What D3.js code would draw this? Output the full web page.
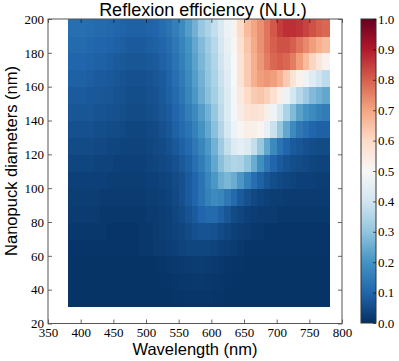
<!DOCTYPE html>
<html>
<head>
<meta charset="utf-8">
<script src="https://cdn.jsdelivr.net/npm/d3@7"></script>
<style>
  body { margin: 0; background: #fff; }
  svg { display: block; }
  .tick line { stroke: #000; stroke-width: 0.6; }
  .axis-title { font-family: "Liberation Sans", Arial, sans-serif; fill: #000; }
</style>
</head>
<body>
<div id="chart"></div>
<script>
// lower edge of each 10 nm wavelength bin
const wavelengths = [380, 390, 400, 410, 420, 430, 440, 450, 460, 470,
  480, 490, 500, 510, 520, 530, 540, 550, 560, 570,
  580, 590, 600, 610, 620, 630, 640, 650, 660, 670,
  680, 690, 700, 710, 720, 730, 740, 750, 760, 770];
// lower edge of each 10 nm diameter bin
const diameters = [30, 40, 50, 60, 70, 80, 90, 100, 110, 120, 130, 140, 150, 160, 170, 180, 190];

// one row per diameter (same order as diameters), one value per wavelength bin
const efficiency = [
  // d = 30
  [0.008, 0.008, 0.008, 0.008, 0.008, 0.008, 0.008, 0.008, 0.008, 0.008, 0.008, 0.008, 0.008, 0.008, 0.008, 0.008, 0.01, 0.01, 0.012, 0.012,
   0.012, 0.012, 0.01, 0.01, 0.008, 0.008, 0.008, 0.008, 0.008, 0.008, 0.008, 0.008, 0.008, 0.008, 0.008, 0.008, 0.008, 0.008, 0.008, 0.008],
  // d = 40
  [0.008, 0.008, 0.008, 0.008, 0.008, 0.008, 0.008, 0.008, 0.008, 0.008, 0.008, 0.008, 0.008, 0.008, 0.01, 0.01, 0.012, 0.014, 0.015, 0.016,
   0.016, 0.015, 0.013, 0.011, 0.01, 0.008, 0.008, 0.008, 0.008, 0.008, 0.008, 0.008, 0.008, 0.008, 0.008, 0.008, 0.008, 0.008, 0.008, 0.008],
  // d = 50
  [0.008, 0.008, 0.008, 0.008, 0.008, 0.008, 0.008, 0.008, 0.008, 0.008, 0.008, 0.008, 0.008, 0.01, 0.012, 0.014, 0.016, 0.018, 0.02, 0.022,
   0.022, 0.02, 0.018, 0.015, 0.012, 0.01, 0.009, 0.008, 0.008, 0.008, 0.008, 0.008, 0.008, 0.008, 0.008, 0.008, 0.008, 0.008, 0.008, 0.008],
  // d = 60
  [0.01, 0.01, 0.01, 0.01, 0.01, 0.01, 0.01, 0.01, 0.01, 0.01, 0.01, 0.015, 0.015, 0.02, 0.02, 0.025, 0.03, 0.035, 0.04, 0.04,
   0.04, 0.04, 0.035, 0.03, 0.025, 0.02, 0.015, 0.01, 0.01, 0.01, 0.01, 0.01, 0.01, 0.01, 0.01, 0.01, 0.01, 0.01, 0.01, 0.01],
  // d = 70
  [0.015, 0.015, 0.015, 0.015, 0.015, 0.015, 0.01, 0.01, 0.01, 0.01, 0.01, 0.015, 0.015, 0.02, 0.025, 0.03, 0.035, 0.04, 0.05, 0.06,
   0.065, 0.065, 0.06, 0.05, 0.04, 0.03, 0.025, 0.02, 0.015, 0.015, 0.01, 0.01, 0.01, 0.01, 0.01, 0.01, 0.01, 0.01, 0.01, 0.01],
  // d = 80
  [0.02, 0.02, 0.02, 0.02, 0.02, 0.015, 0.015, 0.015, 0.015, 0.015, 0.015, 0.015, 0.02, 0.02, 0.025, 0.03, 0.04, 0.05, 0.065, 0.08,
   0.10, 0.11, 0.11, 0.09, 0.07, 0.05, 0.04, 0.03, 0.025, 0.02, 0.02, 0.02, 0.015, 0.015, 0.015, 0.015, 0.015, 0.015, 0.015, 0.015],
  // d = 90
  [0.025, 0.025, 0.025, 0.025, 0.025, 0.02, 0.02, 0.02, 0.02, 0.02, 0.02, 0.02, 0.025, 0.025, 0.03, 0.035, 0.045, 0.06, 0.08, 0.10,
   0.13, 0.16, 0.18, 0.17, 0.14, 0.11, 0.08, 0.06, 0.045, 0.035, 0.03, 0.025, 0.025, 0.02, 0.02, 0.02, 0.02, 0.02, 0.02, 0.02],
  // d = 100
  [0.03, 0.03, 0.03, 0.03, 0.03, 0.03, 0.025, 0.025, 0.025, 0.025, 0.025, 0.025, 0.03, 0.03, 0.035, 0.04, 0.05, 0.06, 0.08, 0.10,
   0.13, 0.17, 0.21, 0.25, 0.27, 0.25, 0.21, 0.16, 0.12, 0.09, 0.07, 0.055, 0.045, 0.04, 0.035, 0.03, 0.03, 0.03, 0.025, 0.025],
  // d = 110
  [0.04, 0.04, 0.04, 0.04, 0.035, 0.035, 0.035, 0.03, 0.03, 0.03, 0.03, 0.03, 0.035, 0.04, 0.045, 0.05, 0.06, 0.075, 0.09, 0.12,
   0.15, 0.19, 0.24, 0.29, 0.33, 0.35, 0.34, 0.30, 0.25, 0.19, 0.14, 0.10, 0.08, 0.065, 0.055, 0.05, 0.045, 0.04, 0.035, 0.035],
  // d = 120
  [0.05, 0.05, 0.05, 0.05, 0.045, 0.045, 0.04, 0.04, 0.035, 0.035, 0.035, 0.035, 0.04, 0.045, 0.05, 0.06, 0.075, 0.09, 0.11, 0.14,
   0.17, 0.21, 0.26, 0.32, 0.38, 0.43, 0.45, 0.43, 0.38, 0.31, 0.24, 0.18, 0.13, 0.10, 0.08, 0.07, 0.06, 0.055, 0.05, 0.05],
  // d = 130
  [0.06, 0.06, 0.06, 0.06, 0.055, 0.055, 0.05, 0.05, 0.045, 0.04, 0.04, 0.04, 0.045, 0.05, 0.06, 0.07, 0.09, 0.11, 0.13, 0.16,
   0.20, 0.24, 0.29, 0.35, 0.41, 0.47, 0.51, 0.53, 0.53, 0.51, 0.46, 0.39, 0.31, 0.24, 0.18, 0.14, 0.12, 0.10, 0.09, 0.09],
  // d = 140
  [0.07, 0.07, 0.07, 0.07, 0.065, 0.065, 0.06, 0.06, 0.055, 0.05, 0.05, 0.05, 0.055, 0.06, 0.07, 0.08, 0.10, 0.12, 0.15, 0.18,
   0.22, 0.26, 0.31, 0.37, 0.43, 0.49, 0.54, 0.57, 0.58, 0.57, 0.53, 0.48, 0.41, 0.34, 0.28, 0.23, 0.20, 0.18, 0.16, 0.15],
  // d = 150
  [0.08, 0.08, 0.08, 0.075, 0.075, 0.07, 0.07, 0.065, 0.06, 0.055, 0.055, 0.055, 0.06, 0.065, 0.075, 0.09, 0.11, 0.135, 0.17, 0.21,
   0.25, 0.29, 0.33, 0.38, 0.43, 0.49, 0.55, 0.60, 0.63, 0.64, 0.62, 0.58, 0.53, 0.47, 0.41, 0.36, 0.32, 0.28, 0.26, 0.24],
  // d = 160
  [0.09, 0.09, 0.09, 0.085, 0.08, 0.08, 0.075, 0.07, 0.065, 0.06, 0.06, 0.06, 0.065, 0.07, 0.08, 0.095, 0.12, 0.145, 0.18, 0.22,
   0.26, 0.30, 0.34, 0.39, 0.44, 0.50, 0.57, 0.63, 0.68, 0.71, 0.72, 0.71, 0.68, 0.63, 0.57, 0.52, 0.48, 0.44, 0.40, 0.37],
  // d = 170
  [0.10, 0.10, 0.10, 0.095, 0.09, 0.09, 0.085, 0.08, 0.075, 0.07, 0.07, 0.07, 0.075, 0.08, 0.09, 0.105, 0.13, 0.155, 0.19, 0.23,
   0.27, 0.31, 0.35, 0.40, 0.45, 0.50, 0.57, 0.63, 0.68, 0.72, 0.76, 0.79, 0.80, 0.79, 0.76, 0.71, 0.66, 0.61, 0.56, 0.52],
  // d = 180
  [0.11, 0.11, 0.11, 0.105, 0.10, 0.10, 0.095, 0.09, 0.085, 0.08, 0.08, 0.08, 0.085, 0.09, 0.10, 0.115, 0.14, 0.165, 0.20, 0.24,
   0.28, 0.32, 0.36, 0.41, 0.46, 0.51, 0.58, 0.64, 0.69, 0.73, 0.77, 0.80, 0.82, 0.82, 0.80, 0.77, 0.74, 0.71, 0.68, 0.66],
  // d = 190
  [0.12, 0.12, 0.12, 0.115, 0.11, 0.11, 0.105, 0.10, 0.095, 0.09, 0.09, 0.09, 0.095, 0.10, 0.115, 0.13, 0.155, 0.18, 0.22, 0.26,
   0.31, 0.34, 0.38, 0.42, 0.47, 0.52, 0.60, 0.66, 0.70, 0.73, 0.77, 0.81, 0.85, 0.87, 0.87, 0.86, 0.84, 0.82, 0.80, 0.79],
];

const xTicks = [350, 400, 450, 500, 550, 600, 650, 700, 750, 800];
const yTicks = [20, 40, 60, 80, 100, 120, 140, 160, 180, 200];
const colorTicks = [0, 0.1, 0.2, 0.3, 0.4, 0.5, 0.6, 0.7, 0.8, 0.9, 1.0];
const binWidth = 10;

const width = 399;
const height = 361;
const plot = { left: 48, right: 342, top: 19, bottom: 323.5 };
const bar = { left: 361, right: 376, top: 19, bottom: 323 };
const tickFont = "'Liberation Serif', 'DejaVu Serif', serif";
const tickSize = 13;

const x = d3.scaleLinear().domain([350, 800]).range([plot.left, plot.right]);
const y = d3.scaleLinear().domain([20, 200]).range([plot.bottom, plot.top]);

// matplotlib RdBu_r: linear segments between the 11 brewer colours
const palette = d3.schemeRdBu[11].slice().reverse();
const color = d3.scaleLinear()
  .domain(palette.map((_, i) => i / (palette.length - 1)))
  .range(palette)
  .interpolate(d3.interpolateRgb)
  .clamp(true);

const svg = d3.select("#chart").append("svg")
  .attr("width", width)
  .attr("height", height);

svg.append("rect").attr("width", width).attr("height", height).attr("fill", "#fff");

// heatmap cells
const cells = efficiency.flatMap((row, i) =>
  row.map((v, j) => ({ d: diameters[i], w: wavelengths[j], v }))
);

svg.append("g")
  .attr("shape-rendering", "crispEdges")
  .selectAll("rect")
  .data(cells)
  .join("rect")
  .attr("x", (c) => x(c.w))
  .attr("y", (c) => y(c.d + binWidth))
  .attr("width", (c) => x(c.w + binWidth) - x(c.w) + 0.6)
  .attr("height", (c) => y(c.d) - y(c.d + binWidth) + 0.6)
  .attr("fill", (c) => color(c.v));

const styleAxis = (g) =>
  g
    .attr("font-family", tickFont)
    .attr("font-size", tickSize)
    .call((g) => g.select(".domain").remove())
    .call((g) => g.selectAll(".tick text").attr("fill", "#000"));

// ticks on all four sides, pointing inward
const tickLen = 4;
svg.append("g")
  .attr("transform", `translate(0,${plot.bottom})`)
  .call(d3.axisBottom(x).tickValues(xTicks).tickSize(-tickLen).tickPadding(4).tickFormat(d3.format("d")))
  .call(styleAxis);
svg.append("g")
  .attr("transform", `translate(0,${plot.top})`)
  .call(d3.axisTop(x).tickValues(xTicks).tickSize(-tickLen).tickFormat(""))
  .call(styleAxis);
svg.append("g")
  .attr("transform", `translate(${plot.left},0)`)
  .call(d3.axisLeft(y).tickValues(yTicks).tickSize(-tickLen).tickPadding(4).tickFormat(d3.format("d")))
  .call(styleAxis);
svg.append("g")
  .attr("transform", `translate(${plot.right},0)`)
  .call(d3.axisRight(y).tickValues(yTicks).tickSize(-tickLen).tickFormat(""))
  .call(styleAxis);

svg.append("rect")
  .attr("x", plot.left)
  .attr("y", plot.top)
  .attr("width", plot.right - plot.left)
  .attr("height", plot.bottom - plot.top)
  .attr("fill", "none")
  .attr("stroke", "#555")
  .attr("stroke-width", 1);

// colorbar
const grad = svg.append("defs").append("linearGradient")
  .attr("id", "cbar")
  .attr("x1", 0).attr("y1", 1).attr("x2", 0).attr("y2", 0);
grad.selectAll("stop")
  .data(palette)
  .join("stop")
  .attr("offset", (_, i) => i / (palette.length - 1))
  .attr("stop-color", (d) => d);

const c = d3.scaleLinear().domain([0, 1]).range([bar.bottom, bar.top]);

svg.append("rect")
  .attr("x", bar.left)
  .attr("y", bar.top)
  .attr("width", bar.right - bar.left)
  .attr("height", bar.bottom - bar.top)
  .attr("fill", "url(#cbar)")
  .attr("stroke", "#333")
  .attr("stroke-width", 1);

svg.append("g")
  .attr("transform", `translate(${bar.right},0)`)
  .call(d3.axisRight(c).tickValues(colorTicks).tickSize(-3).tickPadding(2).tickFormat(d3.format(".1f")))
  .call(styleAxis);

// titles
svg.append("text")
  .attr("class", "axis-title")
  .attr("x", 203)
  .attr("y", 15.5)
  .attr("text-anchor", "middle")
  .attr("font-size", 18)
  .text("Reflexion efficiency (N.U.)");

svg.append("text")
  .attr("class", "axis-title")
  .attr("x", (plot.left + plot.right) / 2)
  .attr("y", 355)
  .attr("text-anchor", "middle")
  .attr("font-size", 16.5)
  .text("Wavelength (nm)");

svg.append("text")
  .attr("class", "axis-title")
  .attr("transform", "translate(17,161) rotate(-90)")
  .attr("text-anchor", "middle")
  .attr("font-size", 16.5)
  .text("Nanopuck diameters (nm)");
</script>
</body>
</html>
